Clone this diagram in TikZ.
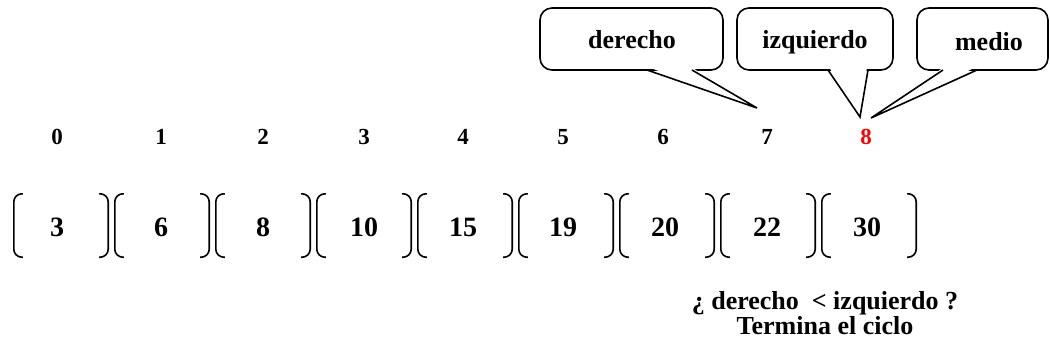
\documentclass[tikz,border=0pt]{standalone}
\usepackage{fontspec}
\setmainfont{Liberation Serif}
\usetikzlibrary{calc}
\tikzset{
  idx/.style={font=\fontsize{23}{26}\selectfont\bfseries, inner sep=0pt},
  val/.style={font=\fontsize{28}{32}\selectfont\bfseries, inner sep=0pt},
  cell/.style={minimum width=94pt, minimum height=63pt, inner sep=0pt},
  brk/.style={line width=1.6pt, rounded corners=8pt},
  calltext/.style={font=\fontsize{26}{30}\selectfont\bfseries, inner sep=0pt},
  callbox/.style={draw, line width=1.6pt, rounded corners=12pt, minimum height=62pt, inner sep=0pt},
  pointer/.style={line width=1.6pt, line join=miter},
  note/.style={font=\fontsize{26}{25}\selectfont\bfseries, align=center, inner sep=0pt}
}
\begin{document}
\begin{tikzpicture}[x=1pt,y=-1pt]
\useasboundingbox (0,0) rectangle (1050,356);
% indices and values
\foreach \i/\v/\cx in {0/3/57,1/6/161,2/8/263,3/10/364,4/15/463,5/19/563,6/20/665,7/22/767,8/30/867}{
  \node[cell] (c\i) at ({61+101*\i},225.5) {};
  \node[val] (v\i) at (\cx,227) {\v};
  \draw[brk] ($(c\i.north west)+(9,0)$) -- (c\i.north west) -- (c\i.south west) -- ($(c\i.south west)+(9,0)$);
  \draw[brk] ($(c\i.north east)+(-9,0)$) -- (c\i.north east) -- (c\i.south east) -- ($(c\i.south east)+(-9,0)$);
}
\foreach \i/\cx in {0/57,1/161,2/263,3/364,4/463,5/563,6/663,7/767}{
  \node[idx] (i\i) at (\cx,137) {\i};
}
\node[idx, text=red] (i8) at (866,137) {8};
% callout boxes
\node[callbox, minimum width=183pt] (bder) at (631.5,39) {};
\node[callbox, minimum width=156pt] (bizq) at (815,39) {};
\node[callbox, minimum width=131pt] (bmed) at (982.5,39) {};
\node[calltext] (tder) at (632,40) {derecho};
\node[calltext] (tizq) at (815,42) {izquierdo};
\node[calltext] (tmed) at (989,42) {medio};
\coordinate (pder) at (757,108);
\coordinate (pizq) at (860,117);
\coordinate (pmed) at (871,118);
% pointers
\fill[white] (648,67) -- (691,67) -- (pder) -- cycle;
\draw[pointer] (647,70) -- (pder) -- (692,70);
\fill[white] (829,67) -- (867,67) -- (pizq) -- cycle;
\draw[pointer] (828,70) -- (pizq) -- (868,70);
\fill[white] (944,67) -- (976,67) -- (pmed) -- cycle;
\draw[pointer] (943,70) -- (pmed) -- (977,70);
% note
\node[note] (note) at (825,313) {¿ derecho \ < izquierdo ?\\Termina el ciclo};
\end{tikzpicture}
\end{document}
